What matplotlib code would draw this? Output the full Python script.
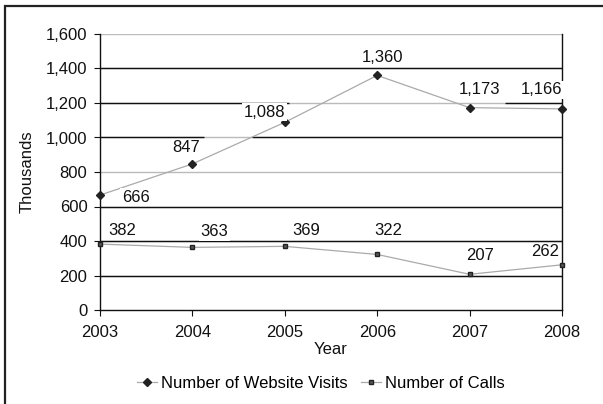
import matplotlib.pyplot as plt
from matplotlib.patches import Rectangle
from matplotlib.ticker import FuncFormatter

plt.rcParams['font.family'] = ['Liberation Sans', 'DejaVu Sans']

years = [2003, 2004, 2005, 2006, 2007, 2008]
visits = [666, 847, 1088, 1360, 1173, 1166]
calls = [382, 363, 369, 322, 207, 262]

# label offsets (pixels) for each data point
visit_off = [(36, -2), (-6, 16), (-20, 10), (5, 18), (10, 18), (-20, 19)]
call_off = [(22, 14), (22, 16), (21, 16), (11, 24), (10, 19), (-17, 13)]

fs = 12

fig = plt.figure(figsize=(6.03, 4.04), dpi=100)
ax = fig.add_axes([100 / 603, 1 - 310 / 404, 462 / 603, 276 / 404])

# outer frame
fig.patches.append(Rectangle((5 / 603, -0.1), 1.2, 1 - 6 / 404 + 0.1,
                             transform=fig.transFigure, fill=False,
                             edgecolor='#222222', linewidth=1.6))

# horizontal grid
for lvl in [200, 400, 600, 800, 1000, 1200, 1400, 1600]:
    ax.axhline(lvl, color='#bbbbbb', linewidth=1.0, zorder=1)
for lvl in [200, 400, 600, 1400]:
    ax.axhline(lvl, color='#111111', linewidth=1.0, zorder=1.1)
ax.hlines([1200, 1200], [2003, 2007.38], [2005.05, 2008], color='#111111', linewidth=1.0, zorder=1.1)
ax.hlines([1000, 1000], [2003, 2004.65], [2004.13, 2008], color='#111111', linewidth=1.0, zorder=1.1)

ax.plot(years, visits, color='#aaaaaa', linewidth=0.9, marker='D', markersize=3.8,
        markerfacecolor='#222222', markeredgecolor='#222222', clip_on=False, zorder=3,
        label='Number of Website Visits')
ax.plot(years, calls, color='#aaaaaa', linewidth=0.9, marker='s', markersize=3.3,
        markerfacecolor='#555555', markeredgecolor='#222222', clip_on=False, zorder=3,
        label='Number of Calls')

for x, v, off in zip(years, visits, visit_off):
    ax.annotate(f'{v:,}', (x, v), xytext=off, textcoords='offset pixels',
                ha='center', va='center', fontsize=fs, color='#111111', zorder=4,
                bbox=dict(boxstyle='square,pad=0.1', facecolor='white', edgecolor='none'))
for x, v, off in zip(years, calls, call_off):
    ax.annotate(f'{v:,}', (x, v), xytext=off, textcoords='offset pixels',
                ha='center', va='center', fontsize=fs, color='#111111', zorder=4,
                bbox=dict(boxstyle='square,pad=0.1', facecolor='white', edgecolor='none'))

ax.set_xlim(2003, 2008)
ax.set_ylim(0, 1600)
ax.set_xticks(years)
ax.set_yticks(range(0, 1601, 200))
ax.yaxis.set_major_formatter(FuncFormatter(lambda v, p: f'{int(v):,}'))
ax.tick_params(axis='both', labelsize=fs, length=4, width=0.8, color='#111111',
               labelcolor='#111111')
ax.tick_params(axis='y', pad=5)
ax.tick_params(axis='x', pad=7)

for side in ['left', 'right', 'bottom']:
    ax.spines[side].set_color('#111111')
    ax.spines[side].set_linewidth(1.0)
ax.spines['top'].set_visible(False)

ax.set_xlabel('Year', fontsize=fs, color='#111111', labelpad=1)
ax.set_ylabel('Thousands', fontsize=fs, color='#111111', labelpad=8)

fig.legend(loc='center', bbox_to_anchor=(321 / 603, 1 - 383 / 404), ncol=2,
           frameon=False, fontsize=fs, handlelength=1.2, handletextpad=0.25,
           columnspacing=0.8)

fig.savefig('out.png', dpi=100)
